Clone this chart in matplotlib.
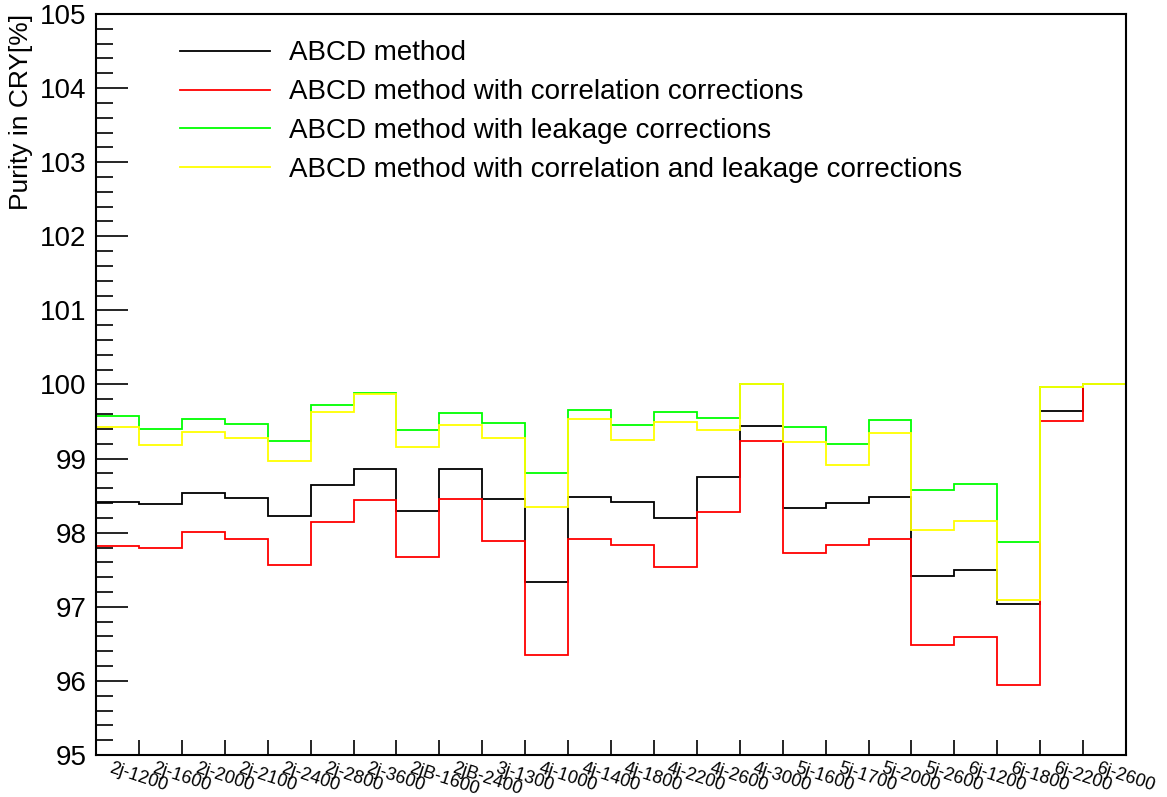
import matplotlib
matplotlib.use("Agg")
import matplotlib.pyplot as plt
from matplotlib.ticker import MultipleLocator, FixedLocator, NullFormatter
import numpy as np

plt.rcParams['font.family'] = ['Liberation Sans', 'DejaVu Sans']

# bin labels
categories = ["2j-1200", "2j-1600", "2j-2000", "2j-2100", "2j-2400", "2j-2800",
              "2j-3600", "2jB-1600", "2jB-2400", "3j-1300", "4j-1000", "4j-1400",
              "4j-1800", "4j-2200", "4j-2600", "4j-3000", "5j-1600", "5j-1700",
              "5j-2000", "5j-2600", "6j-1200", "6j-1800", "6j-2200", "6j-2600"]

# purity values [%] per bin
abcd = [98.41, 98.39, 98.54, 98.47, 98.22, 98.64, 98.86, 98.29, 98.86, 98.46,
        97.33, 98.48, 98.41, 98.20, 98.75, 99.44, 98.33, 98.40, 98.48, 97.42,
        97.50, 97.04, 99.64, 100.0]
abcd_corr = [97.82, 97.80, 98.01, 97.91, 97.56, 98.14, 98.44, 97.67, 98.46, 97.89,
             96.35, 97.91, 97.83, 97.54, 98.28, 99.24, 97.72, 97.83, 97.91, 96.48,
             96.59, 95.95, 99.51, 100.0]
abcd_leak = [99.58, 99.40, 99.53, 99.47, 99.24, 99.73, 99.89, 99.38, 99.61, 99.48,
             98.80, 99.66, 99.45, 99.63, 99.55, 100.0, 99.43, 99.20, 99.52, 98.57,
             98.66, 97.87, 99.97, 100.0]
abcd_corr_leak = [99.42, 99.18, 99.36, 99.28, 98.97, 99.63, 99.87, 99.15, 99.46, 99.28,
                  98.35, 99.54, 99.25, 99.49, 99.38, 100.0, 99.23, 98.91, 99.35, 98.04,
                  98.16, 97.09, 99.97, 100.0]

series = [
    ("ABCD method", abcd, "black"),
    ("ABCD method with correlation corrections", abcd_corr, "#ff0000"),
    ("ABCD method with leakage corrections", abcd_leak, "#00ff00"),
    ("ABCD method with correlation and leakage corrections", abcd_corr_leak, "#ffff00"),
]

fig = plt.figure(figsize=(11.67, 7.97), dpi=100)
ax = fig.add_axes([96 / 1167, 42 / 797, 1030 / 1167, 741 / 797])

edges = np.arange(len(categories) + 1)
for name, vals, col in series:
    ax.stairs(vals, edges, color=col, linewidth=1.3, baseline=None, label=name)

ax.set_xlim(0, len(categories))
ax.set_ylim(95, 105)

# ROOT-like axes
for s in ax.spines.values():
    s.set_linewidth(1.5)
ax.yaxis.set_major_locator(MultipleLocator(1))
ax.yaxis.set_minor_locator(MultipleLocator(0.2))
ax.tick_params(axis='y', which='major', direction='in', length=23, width=1.2,
               labelsize=20, pad=7, right=False)
ax.tick_params(axis='y', which='minor', direction='in', length=12, width=1.2, right=False)
ax.xaxis.set_major_locator(FixedLocator(edges))
ax.xaxis.set_major_formatter(NullFormatter())
ax.tick_params(axis='x', which='major', direction='in', length=11, width=1.2, top=False)

# rotated bin labels
for i, lab in enumerate(categories):
    ax.text(i + 0.38, -0.007, lab, transform=ax.get_xaxis_transform(),
            rotation=-18, rotation_mode='anchor', ha='left', va='top', fontsize=13)

ax.set_ylabel("Purity in CRY[%]", loc='top', fontsize=19, labelpad=5)

ax.legend(loc='upper left', bbox_to_anchor=(0.057, 0.998), frameon=False,
          fontsize=20, handlelength=3.24, handletextpad=0.68, labelspacing=0.46)

fig.savefig("out.png", dpi=100)
